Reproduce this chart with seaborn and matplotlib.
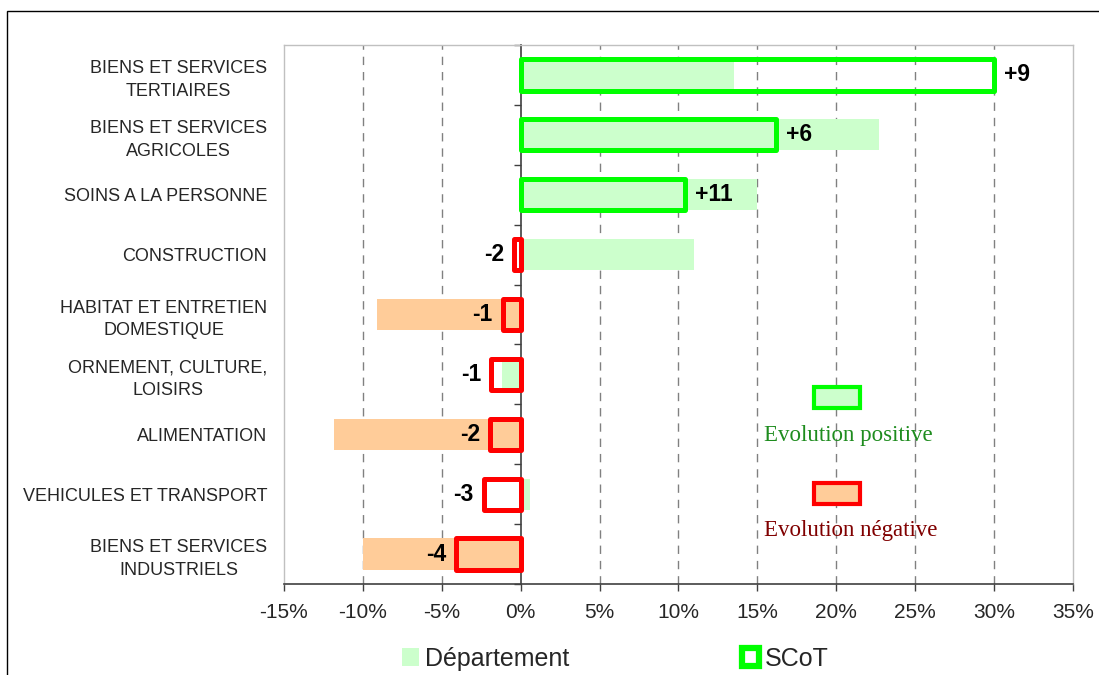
import numpy as np
import matplotlib
matplotlib.use("Agg")
import matplotlib.pyplot as plt
from matplotlib.patches import Patch, Rectangle
import seaborn as sns

# Data (evolution in %)
categories = [
    "BIENS ET SERVICES\nTERTIAIRES",
    "BIENS ET SERVICES\nAGRICOLES",
    "SOINS A LA PERSONNE",
    "CONSTRUCTION",
    "HABITAT ET ENTRETIEN\nDOMESTIQUE",
    "ORNEMENT, CULTURE,\nLOISIRS",
    "ALIMENTATION",
    "VEHICULES ET TRANSPORT",
    "BIENS ET SERVICES\nINDUSTRIELS",
]
departement = [13.5, 22.7, 15.0, 11.0, -9.1, -1.2, -11.8, 0.6, -10.0]
scot = [30.0, 16.2, 10.4, -0.45, -1.15, -1.85, -1.95, -2.35, -4.1]
scot_labels = ["+9", "+6", "+11", "-2", "-1", "-1", "-2", "-3", "-4"]
xticks = [-15, -10, -5, 0, 5, 10, 15, 20, 25, 30, 35]

# colours
light_green = "#CCFFCC"
light_orange = "#FFCC99"
green = "#00FF00"
red = "#FF0000"
dept_colors = [light_green, light_green, light_green, light_green, light_orange,
               light_green, light_orange, light_green, light_orange]
scot_colors = [green, green, green, red, red, red, red, red, red]

sns.set_style("white")
plt.rcParams["font.family"] = ["Liberation Sans", "DejaVu Sans"]

fig = plt.figure(figsize=(10.99, 6.75), dpi=100)
ax = fig.add_axes([0.2584, 0.1348, 0.7179, 0.7985])

# Département bars (filled)
sns.barplot(x=departement, y=categories, hue=categories, palette=dept_colors,
            orient="h", width=0.52, saturation=1, legend=False, linewidth=0,
            ax=ax, zorder=2)
n_dept = len(ax.patches)

# SCoT bars (outline only)
sns.barplot(x=scot, y=categories, hue=categories, palette=scot_colors,
            orient="h", width=0.52, saturation=1, legend=False, ax=ax, zorder=3)
for p, c in zip(ax.patches[n_dept:], scot_colors):
    p.set_facecolor("none")
    p.set_edgecolor(c)
    p.set_linewidth(3.6)
    p.set_joinstyle("round")

# value labels at the end of the SCoT bars
for cont, lab in zip(ax.containers[len(categories):], scot_labels):
    ax.bar_label(cont, labels=[lab], padding=7, fontsize=16.5,
                 fontweight="bold", color="black")

# axes
ax.set_xlim(-15, 35)
ax.set_ylim(8.5, -0.5)
ax.set_xticks(xticks)
ax.set_xticklabels([f"{v}%" for v in xticks], fontsize=15)
ax.tick_params(axis="x", direction="out", length=5, width=1, color="#404040",
               pad=9, bottom=True)
ax.tick_params(axis="y", length=0, pad=12, labelsize=13)
for t in ax.get_yticklabels():
    t.set_multialignment("center")
    t.set_linespacing(1.45)
ax.set_xlabel("")
ax.set_ylabel("")

ax.xaxis.grid(True, linestyle=(0, (6, 5)), color="#808080", linewidth=1)
ax.yaxis.grid(False)
for i, gl in enumerate(ax.get_xgridlines()):
    if xticks[i] in (-15, 0, 35):
        gl.set_visible(False)
ax.set_axisbelow(True)

for side in ("left", "top", "right"):
    ax.spines[side].set_color("#C0C0C0")
    ax.spines[side].set_linewidth(1)
ax.spines["bottom"].set_color("#404040")
ax.spines["bottom"].set_linewidth(1.2)

# vertical axis at 0% with category boundary ticks
sec = ax.secondary_yaxis(15 / 50)
sec.set_yticks(np.arange(-0.5, len(categories), 1))
sec.set_yticklabels([])
sec.tick_params(length=5, width=1, color="#404040")
sec.spines["left"].set_color("#404040")
sec.spines["left"].set_linewidth(1.2)

# inner legend boxes
ax.add_patch(Rectangle((0.672, 0.327), 0.058, 0.038, transform=ax.transAxes,
                       facecolor=light_green, edgecolor=green, linewidth=3,
                       zorder=4))
ax.text(0.7148, 0.276, "Evolution positive", transform=ax.transAxes,
        ha="center", va="center", fontsize=16.5, color="#1E8C1E",
        family=["Liberation Serif", "DejaVu Serif"])
ax.add_patch(Rectangle((0.672, 0.149), 0.058, 0.038, transform=ax.transAxes,
                       facecolor=light_orange, edgecolor=red, linewidth=3,
                       zorder=4))
ax.text(0.7186, 0.100, "Evolution négative", transform=ax.transAxes,
        ha="center", va="center", fontsize=16.5, color="#800000",
        family=["Liberation Serif", "DejaVu Serif"])

# bottom legend
handles = [Patch(facecolor=light_green, edgecolor="none"),
           Patch(facecolor="white", edgecolor=green, linewidth=4.5)]
fig.legend(handles, ["Département", "SCoT"], loc="center",
           bbox_to_anchor=(0.56, 0.024), ncol=2, frameon=False, fontsize=18,
           handlelength=0.68, handleheight=0.68, handletextpad=0.25,
           columnspacing=6.9, borderpad=0)

# outer frame of the figure
fig.patches.append(Rectangle((7 / 1099, -0.1), 1.2, 1.1 - 11 / 675,
                             transform=fig.transFigure, fill=False,
                             edgecolor="black", linewidth=1))

fig.savefig("out.png", dpi=100)
